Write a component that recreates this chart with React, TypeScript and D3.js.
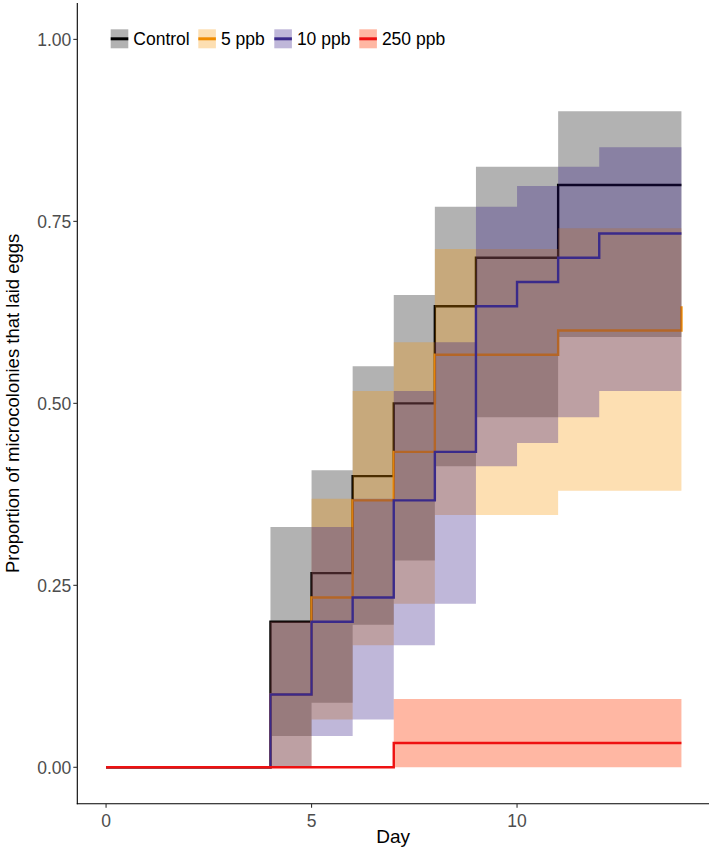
import React from "react";
import * as d3 from "d3";

// ---- Data ----
const days = [0, 1, 2, 3, 4, 5, 6, 7, 8, 9, 10, 11, 12, 13, 14];
const groups = ["Control", "5 ppb", "10 ppb", "250 ppb"];

const controlEst = [0, 0, 0, 0, 0.2, 0.2667, 0.4, 0.5, 0.6333, 0.7, 0.7, 0.8, 0.8, 0.8, 0.8];
const controlLower = [0, 0, 0, 0, 0.043, 0.0886, 0.196, 0.284, 0.4137, 0.481, 0.481, 0.591, 0.591, 0.591, 0.591];
const controlUpper = [0, 0, 0, 0, 0.33, 0.408, 0.551, 0.649, 0.77, 0.825, 0.825, 0.9014, 0.9014, 0.9014, 0.9014];

const ppb5Est = [0, 0, 0, 0, 0.1, 0.2333, 0.3667, 0.4333, 0.5667, 0.5667, 0.5667, 0.6, 0.6, 0.6, 0.6333];
const ppb5Lower = [0, 0, 0, 0, 0, 0.0658, 0.1676, 0.2247, 0.3466, 0.3466, 0.3466, 0.38, 0.38, 0.38, 0.4137];
const ppb5Upper = [0, 0, 0, 0, 0.2, 0.369, 0.517, 0.584, 0.712, 0.712, 0.712, 0.7407, 0.7407, 0.7407, 0.77];

const ppb10Est = [0, 0, 0, 0, 0.1, 0.2, 0.2333, 0.3667, 0.4333, 0.6333, 0.6667, 0.7, 0.7333, 0.7333, 0.7333];
const ppb10Lower = [0, 0, 0, 0, 0, 0.043, 0.0658, 0.1676, 0.2247, 0.4137, 0.4457, 0.481, 0.517, 0.517, 0.517];
const ppb10Upper = [0, 0, 0, 0, 0.2, 0.33, 0.369, 0.517, 0.584, 0.77, 0.7986, 0.825, 0.852, 0.852, 0.852];

const ppb250Est = [0, 0, 0, 0, 0, 0, 0, 0.0333, 0.0333, 0.0333, 0.0333, 0.0333, 0.0333, 0.0333, 0.0333];
const ppb250Lower = [0, 0, 0, 0, 0, 0, 0, 0, 0, 0, 0, 0, 0, 0, 0];
const ppb250Upper = [0, 0, 0, 0, 0, 0, 0, 0.094, 0.094, 0.094, 0.094, 0.094, 0.094, 0.094, 0.094];

const xTicks = [0, 5, 10];
const yTicks = [0, 0.25, 0.5, 0.75, 1];

const lineColors = ["#000000", "#F08C00", "#3A2A8A", "#EE1111"];
const fillColors = ["#000000", "#F89400", "#2A1280", "#FF4A1A"];
const fillOpacity = [0.3, 0.3, 0.3, 0.4];

const W = 709;
const H = 850;
const panel = { left: 77.3, right: 710.2, top: 3, bottom: 803.7 };
const FONT = "'Liberation Sans', Arial, sans-serif";

export default function App() {
  const x = d3.scaleLinear().domain([-0.7, 14.7]).range([panel.left, panel.right]);
  const y = d3.scaleLinear().domain([-0.05, 1.05]).range([panel.bottom, panel.top]);

  const series = [
    { est: controlEst, lo: controlLower, hi: controlUpper },
    { est: ppb5Est, lo: ppb5Lower, hi: ppb5Upper },
    { est: ppb10Est, lo: ppb10Lower, hi: ppb10Upper },
    { est: ppb250Est, lo: ppb250Lower, hi: ppb250Upper },
  ];

  const lineGen = d3
    .line<number>()
    .x((_, i) => x(days[i]))
    .y((d) => y(d))
    .curve(d3.curveStepAfter);

  const areaGen = (lo: number[], hi: number[]) =>
    d3
      .area<number>()
      .x((_, i) => x(days[i]))
      .y0((_, i) => y(lo[i]))
      .y1((_, i) => y(hi[i]))
      .curve(d3.curveStepAfter)(days);

  // legend layout (key x positions and sizes)
  const legendKeyX = [110.7, 198.3, 274.3, 359.3];
  const keyW = 17.6;
  const keyTop = 29.3;
  const keyH = 19;

  return (
    <svg
      width={W}
      height={H}
      style={{ position: "absolute", left: 0, top: 0, background: "#fff" }}
      fontFamily={FONT}
    >
      <clipPath id="panelClip">
        <rect x={panel.left} y={panel.top} width={panel.right - panel.left} height={panel.bottom - panel.top} />
      </clipPath>
      <g clipPath="url(#panelClip)">
        {series.map((s, gi) => (
          <g key={groups[gi]}>
            <path
              d={areaGen(s.lo, s.hi) || ""}
              fill={fillColors[gi]}
              fillOpacity={fillOpacity[gi]}
              stroke="none"
            />
            <path
              d={lineGen(s.est) || ""}
              fill="none"
              stroke={lineColors[gi]}
              strokeWidth={2.4}
              strokeLinejoin="miter"
            />
          </g>
        ))}
      </g>

      {/* axes */}
      <line x1={panel.left} x2={panel.left} y1={panel.top} y2={panel.bottom + 0.5} stroke="#000" strokeWidth={1.1} />
      <line x1={panel.left - 0.5} x2={W} y1={panel.bottom} y2={panel.bottom} stroke="#000" strokeWidth={1.1} />

      {yTicks.map((t) => (
        <g key={"y" + t}>
          <line x1={panel.left - 4} x2={panel.left} y1={y(t)} y2={y(t)} stroke="#333" strokeWidth={1.1} />
          <text
            x={panel.left - 6}
            y={y(t)}
            dy="0.36em"
            textAnchor="end"
            fontSize={17.5}
            fill="#4d4d4d"
          >
            {d3.format(".2f")(t)}
          </text>
        </g>
      ))}

      {xTicks.map((t) => (
        <g key={"x" + t}>
          <line x1={x(t)} x2={x(t)} y1={panel.bottom} y2={panel.bottom + 4} stroke="#333" strokeWidth={1.1} />
          <text x={x(t)} y={826.5} textAnchor="middle" fontSize={17.5} fill="#4d4d4d">
            {t}
          </text>
        </g>
      ))}

      <text x={(panel.left + W) / 2} y={843} textAnchor="middle" fontSize={19} fill="#000">
        Day
      </text>
      <text
        transform={`translate(19, ${(panel.top + panel.bottom) / 2}) rotate(-90)`}
        textAnchor="middle"
        fontSize={18.5}
        fill="#000"
      >
        Proportion of microcolonies that laid eggs
      </text>

      {/* legend */}
      {groups.map((g, gi) => (
        <g key={"lg" + g}>
          <rect
            x={legendKeyX[gi]}
            y={keyTop}
            width={keyW}
            height={keyH}
            fill={fillColors[gi]}
            fillOpacity={fillOpacity[gi]}
          />
          <line
            x1={legendKeyX[gi]}
            x2={legendKeyX[gi] + keyW}
            y1={keyTop + keyH / 2}
            y2={keyTop + keyH / 2}
            stroke={lineColors[gi]}
            strokeWidth={3}
          />
          <text
            x={legendKeyX[gi] + keyW + 5}
            y={keyTop + keyH / 2}
            dy="0.36em"
            fontSize={17.5}
            fill="#000"
          >
            {g}
          </text>
        </g>
      ))}
    </svg>
  );
}
